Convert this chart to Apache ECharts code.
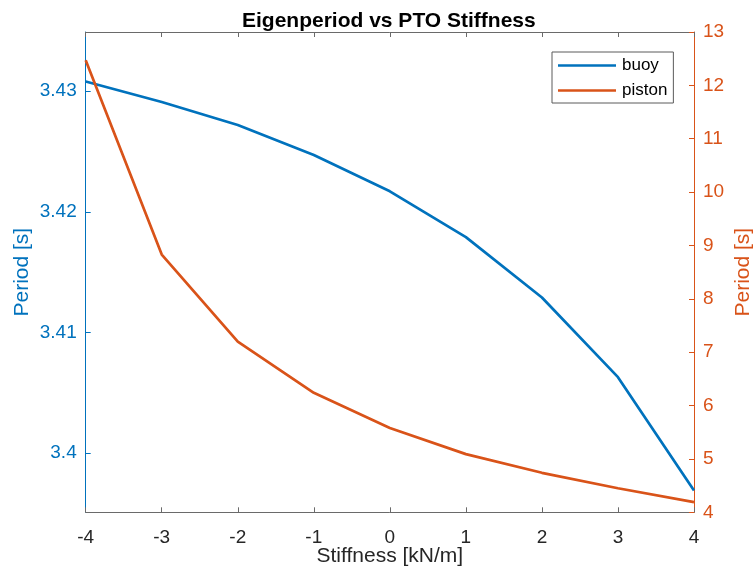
<!DOCTYPE html>
<html>
<head>
<meta charset="utf-8">
<script src="https://cdn.jsdelivr.net/npm/echarts@6/dist/echarts.min.js"></script>
<style>html,body{margin:0;padding:0;background:#fff;}#c{width:756px;height:573px;}</style>
</head>
<body>
<div id="c"></div>
<script>
const stiffness = [-4, -3, -2, -1, 0, 1, 2, 3, 4];
const buoy = [3.4308, 3.4291, 3.4272, 3.4247, 3.4217, 3.4179, 3.4129, 3.4063, 3.3969];
const piston = [12.47, 8.83, 7.20, 6.24, 5.58, 5.09, 4.74, 4.45, 4.19];
const leftTicks = [3.4, 3.41, 3.42, 3.43];
const xTicks = [-4, -3, -2, -1, 0, 1, 2, 3, 4];

const FONT = "'Liberation Sans', Arial, Helvetica, sans-serif";
const BLUE = '#0072BD';
const ORANGE = '#D95319';
const DARK = '#262626';

const chart = echarts.init(document.getElementById('c'), null, {renderer: 'canvas'});
chart.setOption({
  animation: false,
  backgroundColor: '#ffffff',
  title: {
    text: 'Eigenperiod vs PTO Stiffness',
    left: 237, top: 6,
    textStyle: {fontFamily: FONT, fontSize: 21, fontWeight: 'bold', color: '#000'}
  },
  legend: {
    orient: 'vertical',
    left: 552, top: 52,
    padding: [5, 6, 4, 6],
    itemGap: 8,
    itemWidth: 58, itemHeight: 2.5,
    icon: 'rect',
    borderColor: '#5a5a5a', borderWidth: 1,
    backgroundColor: '#fff',
    textStyle: {fontFamily: FONT, fontSize: 17, color: '#000', padding: [0, 0, 0, 1]},
    data: ['buoy', 'piston']
  },
  grid: {left: 85.7, right: 62, top: 32, bottom: 60.7, containLabel: false, outerBoundsMode: 'none'},
  xAxis: [{
    type: 'value', min: -4, max: 4, interval: 1,
    name: 'Stiffness [kN/m]', nameLocation: 'middle', nameGap: 33, nameMoveOverlap: false,
    nameTextStyle: {fontFamily: FONT, fontSize: 21, color: DARK},
    axisLine: {show: true, onZero: false, lineStyle: {color: '#6a6a6a', width: 1}},
    axisTick: {show: true, inside: true, length: 5, lineStyle: {color: '#6a6a6a'}},
    axisLabel: {fontFamily: FONT, fontSize: 19, color: DARK, margin: 16,
      customValues: xTicks},
    splitLine: {show: false}
  }, {
    type: 'value', min: -4, max: 4, interval: 1, position: 'top',
    axisLine: {show: true, onZero: false, lineStyle: {color: '#6a6a6a', width: 1}},
    axisTick: {show: true, inside: true, length: 5, lineStyle: {color: '#6a6a6a'}},
    axisLabel: {show: false},
    splitLine: {show: false}
  }],
  yAxis: [{
    type: 'value', min: 3.3951, max: 3.4349, position: 'left',
    name: 'Period [s]', nameLocation: 'middle', nameGap: 53, nameMoveOverlap: false,
    nameTextStyle: {fontFamily: FONT, fontSize: 21, color: BLUE},
    axisLine: {show: true, onZero: false, lineStyle: {color: BLUE, width: 1}},
    axisTick: {show: true, inside: true, length: 5, customValues: leftTicks, lineStyle: {color: BLUE}},
    axisLabel: {fontFamily: FONT, fontSize: 19, color: BLUE, margin: 9, customValues: leftTicks,
      formatter: v => String(Math.round(v * 100) / 100)},
    splitLine: {show: false}
  }, {
    type: 'value', min: 4, max: 13, interval: 1, position: 'right',
    name: 'Period [s]', nameLocation: 'middle', nameGap: 39, nameRotate: 90, nameMoveOverlap: false,
    nameTextStyle: {fontFamily: FONT, fontSize: 21, color: ORANGE},
    axisLine: {show: true, onZero: false, lineStyle: {color: ORANGE, width: 1}},
    axisTick: {show: true, inside: true, length: 5, lineStyle: {color: ORANGE}},
    axisLabel: {fontFamily: FONT, fontSize: 19, color: ORANGE, margin: 9},
    splitLine: {show: false}
  }],
  series: [{
    name: 'buoy', type: 'line', xAxisIndex: 0, yAxisIndex: 0,
    data: stiffness.map((x, i) => [x, buoy[i]]),
    symbol: 'none', lineStyle: {color: BLUE, width: 2.7}, itemStyle: {color: BLUE}
  }, {
    name: 'piston', type: 'line', xAxisIndex: 0, yAxisIndex: 1,
    data: stiffness.map((x, i) => [x, piston[i]]),
    symbol: 'none', lineStyle: {color: ORANGE, width: 2.7}, itemStyle: {color: ORANGE}
  }]
});
</script>
</body>
</html>
